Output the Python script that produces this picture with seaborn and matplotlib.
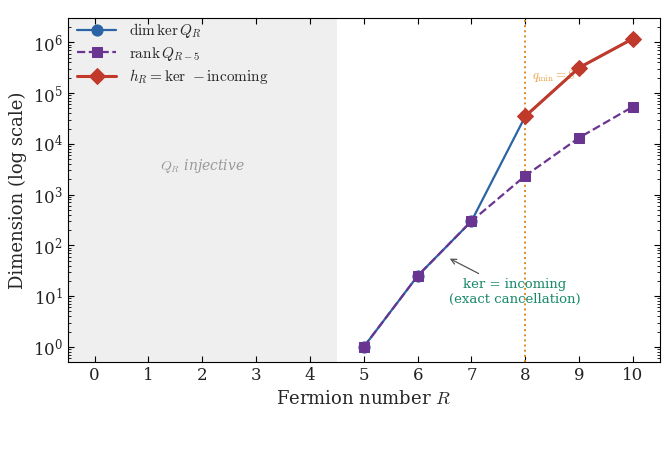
import numpy as np
import pandas as pd
import matplotlib
matplotlib.use("Agg")
import matplotlib.pyplot as plt
import seaborn as sns

# values
R_vals = [5, 6, 7, 8, 9, 10]
dim_ker = [1, 25, 300, 35000, 316000, 1180000]
rank_prev = [1, 25, 300, 2350, 13200, 54000]
R_h = [8, 9, 10]
h_R = [35000, 316000, 1180000]
x_ticks = list(range(0, 11))

sns.set_theme(style="ticks")
plt.rcParams['font.family'] = ['DejaVu Serif']
plt.rcParams['mathtext.fontset'] = 'cm'
plt.rcParams['xtick.direction'] = 'in'
plt.rcParams['ytick.direction'] = 'in'
plt.rcParams['xtick.top'] = True
plt.rcParams['ytick.right'] = True
plt.rcParams['axes.linewidth'] = 0.8
plt.rcParams['axes.edgecolor'] = 'black'
plt.rcParams['xtick.color'] = 'black'
plt.rcParams['ytick.color'] = 'black'
plt.rcParams['xtick.major.width'] = 0.8
plt.rcParams['ytick.major.width'] = 0.8
plt.rcParams['ytick.minor.width'] = 0.6
plt.rcParams['xtick.major.size'] = 4
plt.rcParams['ytick.major.size'] = 4
plt.rcParams['ytick.minor.size'] = 2

c_blue = '#2b64a4'
c_purple = '#6a3590'
c_red = '#c0392b'

fig, ax = plt.subplots(figsize=(6.7, 4.51), dpi=100)
fig.subplots_adjust(left=0.101, right=0.985, top=0.960, bottom=0.197)

ax.axvspan(-0.5, 4.5, color='#efefef', zorder=0, lw=0)
ax.axvline(8, color='#e08a1e', ls=':', lw=1.4, zorder=1)
ax.text(8.12, 1.9e5, r'$q_{\min} = 8$', color='#e8a040', fontsize=9, zorder=1)

df_ker = pd.DataFrame({'R': R_vals, 'v': dim_ker})
df_rank = pd.DataFrame({'R': R_vals, 'v': rank_prev})
df_h = pd.DataFrame({'R': R_h, 'v': h_R})

sns.lineplot(data=df_ker, x='R', y='v', ax=ax, color=c_blue, marker='o',
             markersize=8, markeredgecolor=c_blue, lw=1.6, zorder=3,
             label=r'$\dim\ker Q_R$')
sns.lineplot(data=df_rank, x='R', y='v', ax=ax, color=c_purple, marker='s',
             markersize=7, markeredgecolor=c_purple, lw=1.6, ls='--', zorder=4,
             label=r'$\mathrm{rank}\,Q_{R-5}$')
sns.lineplot(data=df_h, x='R', y='v', ax=ax, color=c_red, marker='D',
             markersize=8, markeredgecolor=c_red, lw=2.2, zorder=5,
             label=r'$h_R = \ker\, - \mathrm{incoming}$')

ax.set_yscale('log')
ax.set_xlim(-0.5, 10.5)
ax.set_ylim(0.5, 3e6)
ax.set_xticks(x_ticks)
ax.tick_params(axis='both', labelsize=12, colors='black', labelcolor='#222222')
ax.tick_params(axis='y', which='minor', direction='in', right=True)

ax.text(2.0, 3700, r'$Q_R$ injective', color='#999999', fontsize=10,
        style='italic', ha='center', va='center')

ax.annotate('ker = incoming\n(exact cancellation)', xy=(6.55, 58),
            xytext=(7.8, 12), ha='center', va='center', color='#1a8a6a',
            fontsize=9.5, arrowprops=dict(arrowstyle='->', color='#555555', lw=0.9))

ax.set_xlabel(r'Fermion number $R$', fontsize=13)
ax.set_ylabel('Dimension (log scale)', fontsize=13)

leg = ax.legend(loc='upper left', frameon=False, fontsize=11, handlelength=2.6,
                borderaxespad=0.1, labelspacing=0.3, borderpad=0.1,
                bbox_to_anchor=(0.01, 1.0))

fig.savefig('out.png', dpi=100)
